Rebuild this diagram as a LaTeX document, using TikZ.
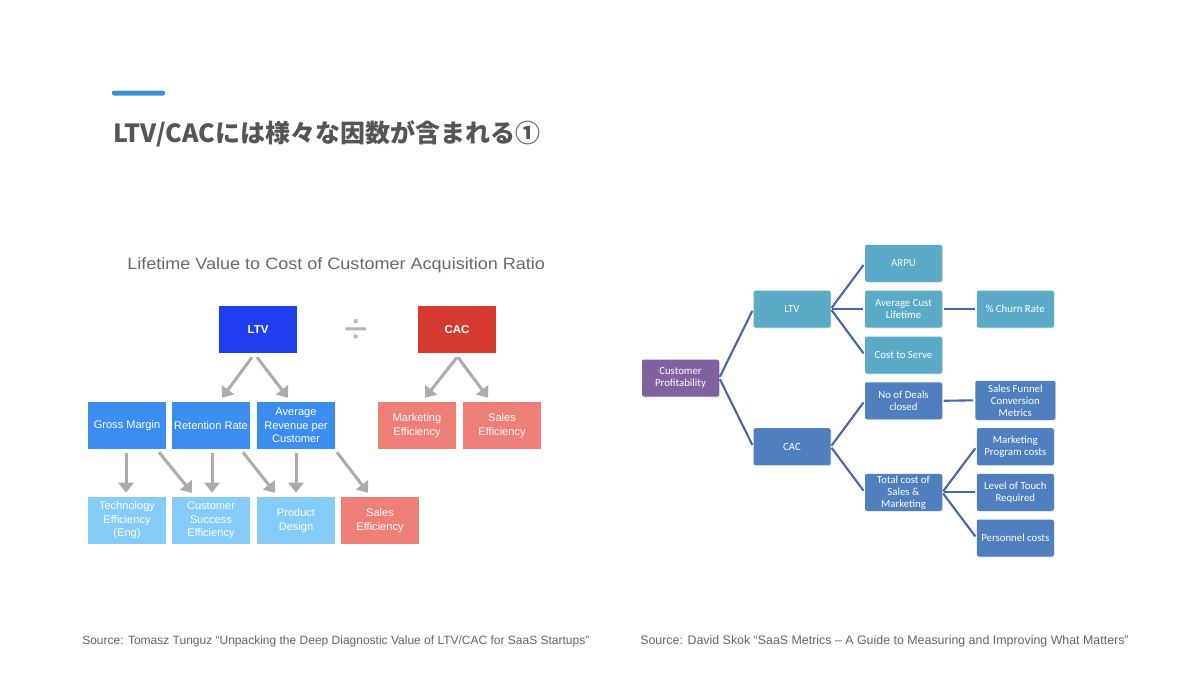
\documentclass[tikz,border=0pt]{standalone}
\usepackage{fontspec}
\setmainfont{Liberation Sans}
\newfontfamily\cjk{Noto Sans CJK JP}
\newfontfamily\calfont{Carlito}
\newfontfamily\widefont{Liberation Sans}[FakeStretch=1.1]
\usetikzlibrary{arrows.meta,calc,shadows}
\definecolor{accent}{RGB}{61,143,209}
\definecolor{titlegray}{RGB}{85,85,85}
\definecolor{subgray}{RGB}{100,100,100}
\definecolor{ltitlegray}{RGB}{105,105,105}
\definecolor{ltvblue}{RGB}{30,62,240}
\definecolor{cacred}{RGB}{214,58,46}
\definecolor{midblue}{RGB}{59,141,239}
\definecolor{lightblue}{RGB}{133,204,248}
\definecolor{salmon}{RGB}{238,127,119}
\definecolor{arrgray}{RGB}{172,172,172}
\definecolor{divgray}{RGB}{180,180,180}
\definecolor{rpurple}{RGB}{128,98,162}
\definecolor{rteal}{RGB}{90,170,200}
\definecolor{rblue}{RGB}{79,127,190}
\definecolor{rline}{RGB}{72,102,165}
\begin{document}
\begin{tikzpicture}[x=0.75pt,y=-0.75pt,
  lbox/.style={minimum width=78*0.75pt,minimum height=47*0.75pt,inner sep=0.5pt,align=center,
    text=white,font=\fontsize{8.3}{10.1}\selectfont},
  topbox/.style={lbox,font=\fontsize{8.6}{10}\selectfont\bfseries},
  arr/.style={draw=arrgray,line width=3*0.75pt,-{Triangle[width=15*0.75pt,length=10*0.75pt]}},
  rbox/.style={minimum width=77*0.75pt,minimum height=37*0.75pt,inner sep=0.5pt,align=center,
    text=white,rounded corners=2*0.75pt,font=\calfont\fontsize{8.1}{9}\selectfont,
    drop shadow={shadow xshift=0.6pt,shadow yshift=-0.6pt,opacity=0.25}},
  rlink/.style={draw=rline,line width=2.1*0.75pt,shorten <=1pt,shorten >=1.5pt},
  src/.style={anchor=base west,text=subgray,font=\fontsize{9}{11}\selectfont,inner sep=0pt}
]
\useasboundingbox[fill=white] (0,0) rectangle (1200,675);

% header
\fill[accent,rounded corners=2*0.75pt] (112,90.5) rectangle (165,95.5);
\node[anchor=base west,inner sep=0pt,text=titlegray,font=\cjk\bfseries\fontsize{18.75}{22}\selectfont] (title) at (113,142) {LTV/CACには様々な因数が含まれる①};

% ---------- left diagram ----------
\node[anchor=base west,inner sep=0pt,text=ltitlegray,font=\widefont\fontsize{12.3}{14}\selectfont] (ltitle) at (127,269.5) {Lifetime Value to Cost of Customer Acquisition Ratio};

\node[topbox,fill=ltvblue] (ltv) at (258,329.5) {LTV};
\node[topbox,fill=cacred] (cac) at (457,329.5) {CAC};
\node[text=divgray,inner sep=0pt,font=\fontsize{32}{32}\selectfont] (div) at (356,332) {÷};

\node[lbox,fill=midblue] (gm) at (127,425.5) {Gross Margin};
\node[lbox,fill=midblue] (rr) at (211,425.5) {Retention Rate};
\node[lbox,fill=midblue] (arpc) at (296,425.5) {Average\\Revenue per\\Customer};
\node[lbox,fill=salmon] (me) at (417,425.5) {Marketing\\Efficiency};
\node[lbox,fill=salmon] (se) at (502,425.5) {Sales\\Efficiency};

\node[lbox,fill=lightblue] (te) at (127,520.5) {Technology\\Efficiency\\(Eng)};
\node[lbox,fill=lightblue] (cse) at (211,520.5) {Customer\\Success\\Efficiency};
\node[lbox,fill=lightblue] (pd) at (296,520.5) {Product\\Design};
\node[lbox,fill=salmon] (se2) at (380,520.5) {Sales\\Efficiency};

\draw[arr] ($(ltv.south)+(-6,4)$) -- ($(rr.north)+(11,-4)$);
\draw[arr] ($(ltv.south)+(-1,4)$) -- ($(arpc.north)+(-8,-4)$);
\draw[arr] ($(cac.south)+(0,4)$) -- ($(me.north)+(8,-4)$);
\draw[arr] ($(cac.south)+(1,4)$) -- ($(se.north)+(-14,-4)$);

\draw[arr] ($(gm.south)+(-1,4)$) -- ($(te.north)+(-1,-4)$);
\draw[arr] ($(gm.south)+(32,3)$) -- ($(cse.north)+(-19,-4)$);
\draw[arr] ($(rr.south)+(1,4)$) -- ($(cse.north)+(1,-4)$);
\draw[arr] ($(rr.south)+(32,3)$) -- ($(pd.north)+(-21,-4)$);
\draw[arr] ($(arpc.south)+(0,4)$) -- ($(pd.north)+(0,-4)$);
\draw[arr] ($(arpc.south)+(41,3)$) -- ($(se2.north)+(-12,-4)$);

% ---------- right diagram ----------
\node[rbox,fill=rpurple] (cp) at (680.5,378) {Customer\\Profitability};
\node[rbox,fill=rteal] (rltv) at (792,309) {LTV};
\node[rbox,fill=rblue] (rcac) at (792,446.7) {CAC};
\node[rbox,fill=rteal] (arpu) at (903.5,263.3) {ARPU};
\node[rbox,fill=rteal] (acl) at (903.5,309) {Average Cust\\Lifetime};
\node[rbox,fill=rteal] (cts) at (903.5,355) {Cost to Serve};
\node[rbox,fill=rblue] (nod) at (903.5,400.8) {No of Deals\\closed};
\node[rbox,fill=rblue] (tcs) at (903.5,492.3) {Total cost of\\Sales \&\\Marketing};
\node[rbox,fill=rteal] (churn) at (1015.3,309) {\% Churn Rate};
\node[rbox,fill=rblue,minimum width=80*0.75pt,minimum height=39*0.75pt] (sfcm) at (1015.3,400.3) {Sales Funnel\\Conversion\\Metrics};
\node[rbox,fill=rblue] (mpc) at (1015.3,446.7) {Marketing\\Program costs};
\node[rbox,fill=rblue] (ltr) at (1015.3,492.3) {Level of Touch\\Required};
\node[rbox,fill=rblue] (pc) at (1015.3,538) {Personnel costs};

\draw[rlink] (cp.east) -- (rltv.west);
\draw[rlink] (cp.east) -- (rcac.west);
\draw[rlink] (rltv.east) -- (arpu.west);
\draw[rlink] (rltv.east) -- (acl.west);
\draw[rlink] (rltv.east) -- (cts.west);
\draw[rlink] (acl.east) -- (churn.west);
\draw[rlink] (rcac.east) -- (nod.west);
\draw[rlink] (rcac.east) -- (tcs.west);
\draw[rlink] (nod.east) -- (sfcm.west);
\draw[rlink] (tcs.east) -- (mpc.west);
\draw[rlink] (tcs.east) -- (ltr.west);
\draw[rlink] (tcs.east) -- (pc.west);

% sources
\node[src] (src1) at (82,644) {Source: Tomasz Tunguz “Unpacking the Deep Diagnostic Value of LTV/CAC for SaaS Startups”};
\node[src,font=\fontsize{9.3}{11}\selectfont] (src2) at (640,644) {Source: David Skok “SaaS Metrics – A Guide to Measuring and Improving What Matters”};
\end{tikzpicture}
\end{document}
